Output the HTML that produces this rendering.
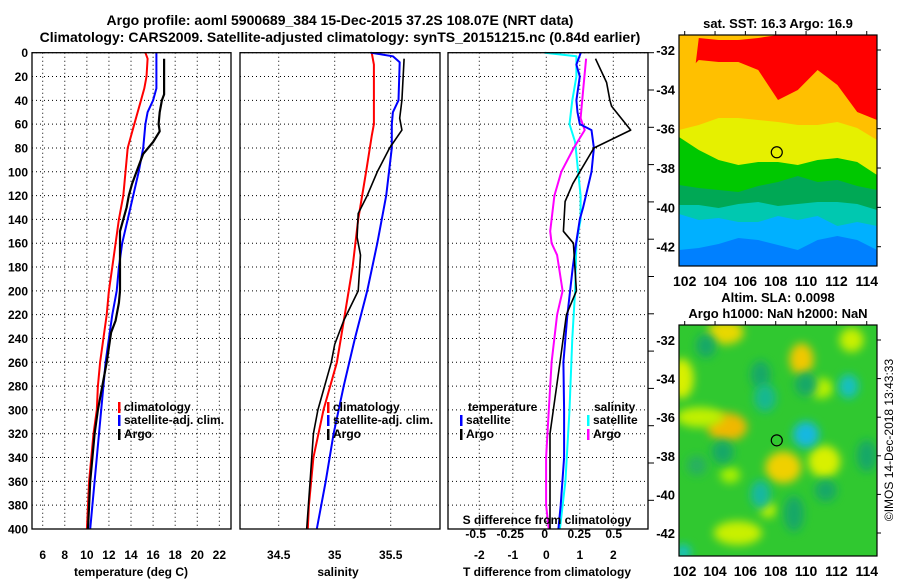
<!DOCTYPE html>
<html><head><meta charset="utf-8">
<style>
html,body{margin:0;padding:0;background:#fff;}
svg{display:block;font-family:"Liberation Sans",sans-serif;font-weight:bold;}
</style></head>
<body>
<svg id="fig" width="900" height="580" viewBox="0 0 900 580" xmlns="http://www.w3.org/2000/svg">
<defs>
<filter id="blur" x="-50%" y="-50%" width="200%" height="200%"><feGaussianBlur stdDeviation="4.5"/></filter>
<clipPath id="m1clip"><rect x="679" y="35" width="198" height="231"/></clipPath>
<clipPath id="m2clip"><rect x="679" y="325" width="198" height="231"/></clipPath>
</defs>
<text x="340" y="25" font-size="14" text-anchor="middle">Argo profile: aoml 5900689_384 15-Dec-2015 37.2S 108.07E (NRT data)</text>
<text x="340" y="42" font-size="14" text-anchor="middle">Climatology: CARS2009. Satellite-adjusted climatology: synTS_20151215.nc (0.84d earlier)</text>
<g id="p1"></g>
<g id="p2"></g>
<g id="p3"></g>
<g id="map1"></g>
<g id="map2"></g>
<text transform="translate(893,440) rotate(-90)" font-size="12" font-weight="normal" text-anchor="middle">©IMOS 14-Dec-2018 13:43:33</text>
</svg>
<script>
// ---- data ----
const depthTicks=[0,20,40,60,80,100,120,140,160,180,200,220,240,260,280,300,320,340,360,380,400];
const tempTicks=[6,8,10,12,14,16,18,20,22];
const salTicks=[34.5,35,35.5];
const tdiffTicks=[-2,-1,0,1,2];
const sdiffTicks=[-0.5,-0.25,0,0.25,0.5];
const climTDepth=[0,5,20,30,40,60,80,100,120,140,160,180,200,220,240,260,280,300,320,340,360,380,400];
const climTVal=[15.3,15.5,15.4,15.2,14.9,14.3,13.7,13.5,13.3,12.9,12.6,12.3,12.0,11.8,11.5,11.2,11.0,10.9,10.6,10.4,10.2,10.1,10.0];
const satTDepth=[0,30,40,50,60,80,100,120,140,160,180,200,220,240,260,280,300,320,340,360,380,400];
const satTVal=[16.3,16.3,16.0,15.5,15.3,15.1,14.7,14.2,13.7,13.2,12.9,12.7,12.3,12.0,11.7,11.5,11.3,11.1,10.9,10.7,10.5,10.3];
const argoTDepth=[5,35,40,50,60,66,75,85,100,110,120,130,140,150,160,200,210,225,235,260,280,300,320,340,360,380,400];
const argoTVal=[17.0,17.0,16.8,16.6,16.5,16.6,16.0,15.1,14.5,14.1,13.8,13.6,13.3,13.0,13.0,13.0,12.9,12.6,12.2,11.8,11.4,11.0,10.7,10.5,10.3,10.2,10.1];
const climSDepth=[0,10,60,70,100,140,180,220,260,300,340,380,400];
const climSVal=[35.33,35.35,35.35,35.33,35.28,35.21,35.16,35.09,35.02,34.90,34.81,34.77,34.76];
const satSDepth=[0,3,8,40,50,60,80,120,160,200,240,280,320,360,400];
const satSVal=[35.32,35.52,35.58,35.57,35.52,35.51,35.51,35.46,35.38,35.29,35.18,35.08,34.99,34.92,34.84];
const argoSDepth=[5,40,55,65,80,100,120,135,155,170,200,225,245,260,280,300,320,360,400];
const argoSVal=[35.62,35.60,35.58,35.60,35.49,35.38,35.29,35.21,35.20,35.23,35.21,35.08,35.00,34.97,34.91,34.85,34.81,34.78,34.75];
const dTSatDepth=[0,10,20,40,50,60,65,80,100,130,140,160,180,220,260,300,340,380,400];
const dTSatVal=[1.03,0.9,1.0,0.9,0.93,1.0,1.35,1.42,1.35,1.1,1.0,0.89,0.79,0.63,0.51,0.53,0.53,0.43,0.36];
const dTArgoDepth=[5,25,40,45,65,80,100,110,125,150,160,200,220,260,290,320,360,400];
const dTArgoVal=[1.47,1.8,1.9,1.95,2.52,1.42,1.0,0.79,0.56,0.51,0.81,0.90,0.60,0.41,0.26,0.11,0.11,0.11];
const dSSatDepth=[0,3,20,40,60,75,120,140,160,200,240,300,360,400];
const dSSatVal=[0,0.23,0.23,0.2,0.18,0.22,0.26,0.26,0.23,0.22,0.2,0.18,0.15,0.11];
const dSArgoDepth=[5,30,55,65,80,100,120,150,160,170,200,220,260,300,340,380,400];
const dSArgoVal=[0.30,0.28,0.26,0.29,0.21,0.12,0.07,0.04,0.05,0.09,0.13,0.09,0.05,0.03,0.01,0.01,0.03];
const lonTicks=[102,104,106,108,110,112,114];
const latTicks=[-32,-34,-36,-38,-40,-42];
const argoLon=108.07, argoLat=-37.2;
const sstText="sat. SST: 16.3 Argo: 16.9";

// ---- helpers ----
const NS="http://www.w3.org/2000/svg";
function mk(parent,tag,attrs,txt){const e=document.createElementNS(NS,tag);for(const k in attrs)e.setAttribute(k,attrs[k]);if(txt!==undefined)e.textContent=txt;parent.appendChild(e);return e;}
const yD=d=>52.7+d*476.3/400;
function frame(g,x0,x1){
  const r=mk(g,'rect',{x:x0,y:52.7,width:x1-x0,height:476.3,fill:'none',stroke:'#000','stroke-width':1.3});
  
  
}
function hgrid(g,x0,x1){
  depthTicks.forEach(d=>{const l=mk(g,'line',{x1:x0,x2:x1,y1:yD(d),y2:yD(d),stroke:'#000','stroke-dasharray':'1,3','stroke-width':1});
    
    });
}
function vgrid(g,ticks,fx){
  ticks.forEach(v=>{const l=mk(g,'line',{x1:fx(v),x2:fx(v),y1:52.7,y2:529,stroke:'#000','stroke-dasharray':'1,3','stroke-width':1});
    
    });
}
function line(g,ds,vs,fx,color,w,name){
  const pts=ds.map((d,i)=>fx(vs[i]).toFixed(1)+','+yD(d).toFixed(1)).join(' ');
  const p=mk(g,'polyline',{points:pts,fill:'none',stroke:color,'stroke-width':w,'stroke-linejoin':'round'});
  
  
}
function legend(g,x,y,color,label,name){
  const b=mk(g,'rect',{x:x,y:y-9,width:2.5,height:11,fill:color});
  
  
  const t=mk(g,'text',{x:x+6,y:y,'font-size':12},label);
  
  
}
function txt(g,x,y,s,size,anchor,name){const t=mk(g,'text',{x:x,y:y,'font-size':size,'text-anchor':anchor||'start'},s);
  
  return t;}

// ---- panel 1 temperature ----
const p1=document.getElementById('p1');
const fT=v=>42.7+(v-6)*11.04;
hgrid(p1,32,231);vgrid(p1,tempTicks,fT);
line(p1,climTDepth,climTVal,fT,'#f00',2,'climatology-temp-line');
line(p1,satTDepth,satTVal,fT,'#00f',2,'satellite-temp-line');
line(p1,argoTDepth,argoTVal,fT,'#000',2.2,'argo-temp-line');
frame(p1,32,231);
depthTicks.forEach(d=>txt(p1,28,yD(d)+4.5,String(d),12,'end','depth-tick-label'));
tempTicks.forEach(v=>txt(p1,fT(v),559,String(v),12,'middle','temp-tick-label'));
txt(p1,131,576,'temperature (deg C)',12,'middle','temp-axis-title');
legend(p1,118,411,'#f00','climatology','legend-climatology');
legend(p1,118,424,'#00f','satellite-adj. clim.','legend-satellite');
legend(p1,118,438,'#000','Argo','legend-argo');

// ---- panel 2 salinity ----
const p2=document.getElementById('p2');
const fS=v=>334.7+(v-35)*112;
hgrid(p2,240,440);vgrid(p2,salTicks,fS);
line(p2,climSDepth,climSVal,fS,'#f00',2,'climatology-sal-line');
line(p2,satSDepth,satSVal,fS,'#00f',2,'satellite-sal-line');
line(p2,argoSDepth,argoSVal,fS,'#000',1.6,'argo-sal-line');
frame(p2,240,440);
salTicks.forEach(v=>txt(p2,fS(v),559,String(v),12,'middle','sal-tick-label'));
txt(p2,338,576,'salinity',12,'middle','sal-axis-title');
legend(p2,327,411,'#f00','climatology','legend-climatology');
legend(p2,327,424,'#00f','satellite-adj. clim.','legend-satellite');
legend(p2,327,438,'#000','Argo','legend-argo');

// ---- panel 3 differences ----
const p3=document.getElementById('p3');
const fDT=v=>546.3+v*33.5;
const fDS=v=>544.7+v*138;
hgrid(p3,448,648);vgrid(p3,tdiffTicks,fDT);
line(p3,dSSatDepth,dSSatVal,fDS,'#0ff',2,'salinity-satellite-diff-line');
line(p3,dSArgoDepth,dSArgoVal,fDS,'#f0f',2,'salinity-argo-diff-line');
line(p3,dTSatDepth,dTSatVal,fDT,'#00f',2,'temperature-satellite-diff-line');
line(p3,dTArgoDepth,dTArgoVal,fDT,'#000',1.6,'temperature-argo-diff-line');
frame(p3,448,648);
for(let y=52.7;y<=529;y+=37.3){const l=mk(p3,'line',{x1:648,x2:654,y1:y,y2:y,stroke:'#000','stroke-width':1});
  
  }
tdiffTicks.forEach(v=>txt(p3,fDT(v),559,String(v),12,'middle','tdiff-tick-label'));
sdiffTicks.forEach(v=>txt(p3,fDS(v),538,String(v),12,'middle','sdiff-tick-label'));
txt(p3,547,524,'S difference from climatology',12,'middle','sdiff-axis-title');
txt(p3,547,576,'T difference from climatology',12,'middle','tdiff-axis-title');
txt(p3,468,411,'temperature',12,'start','legend-temperature-heading');
txt(p3,594,411,'salinity',12,'start','legend-salinity-heading');
legend(p3,460,424,'#00f','satellite','legend-temp-satellite');
legend(p3,460,438,'#000','Argo','legend-temp-argo');
legend(p3,587,424,'#0ff','satellite','legend-sal-satellite');
legend(p3,587,438,'#f0f','Argo','legend-sal-argo');

// ---- maps ----
function mapAxes(g,top,lat32y,lat42y,titleLines){
  const fx=lon=>684.7+(lon-102)*15.17;
  const fy=lat=>lat32y+(-32-lat)*(lat42y-lat32y)/10;
  const r=mk(g,'rect',{x:679,y:top,width:198,height:231,fill:'none',stroke:'#000','stroke-width':1.2});
  
  
  lonTicks.forEach(v=>{
    const l=mk(g,'line',{x1:fx(v),x2:fx(v),y1:top-4,y2:top,stroke:'#000'});
    
    
    txt(g,fx(v),top+231+20,String(v),14,'middle','lon-tick-label');
  });
  latTicks.forEach(v=>{
    const l=mk(g,'line',{x1:877,x2:881,y1:fy(v),y2:fy(v),stroke:'#000'});
    
    
    txt(g,675,fy(v)+5,String(v),13,'end','lat-tick-label');
  });
  const c=mk(g,'circle',{cx:fx(argoLon),cy:fy(argoLat),r:5.5,fill:'none',stroke:'#000','stroke-width':1.2});
  
  
  const n=titleLines.length;
  titleLines.forEach((s,i)=>txt(g,778,top-(n-1-i)*16-7,s,13,'middle','map-title'));
  return {fx,fy};
}
const m1=document.getElementById('map1');
const g1=mk(m1,'g',{'clip-path':'url(#m1clip)'});


const bandColors=['#ffc000','#ff0000','#ffc000','#e6f000','#00c800','#00a855','#00c8b0','#00b0ff','#0080ff'];
const bandTops=[
 [35,35,35,35,35,35,35,35,35,35,35],
 [200,38,40,40,38,35,35,35,35,35,35],
 [80,60,62,62,70,100,90,70,85,112,120],
 [130,125,118,118,120,122,125,125,122,128,140],
 [137,150,160,165,162,162,165,160,158,162,175],
 [185,188,190,192,186,182,176,182,180,186,190],
 [205,205,208,204,202,206,204,202,202,204,210],
 [214,220,218,222,222,216,220,216,226,222,226],
 [250,248,244,238,240,245,250,240,236,240,250]];
bandTops.forEach((tops,bi)=>{
  let pts=tops.map((y,i)=>(679+i*19.8).toFixed(1)+','+y).join(' ');
  pts+=' 877,266 679,266';
  const p=mk(g1,'polygon',{points:pts,fill:bandColors[bi]});
  
  
});
mapAxes(m1,35,50,246.7,[sstText]);

const m2=document.getElementById('map2');
const g2=mk(m2,'g',{'clip-path':'url(#m2clip)'});


mk(g2,'rect',{x:679,y:325,width:198,height:231,fill:'#30c830'});
const blobs=[
 [104.7,-31.6,18,12,'#e8d800'],[101.8,-34,12,20,'#d8f000'],[104.8,-36.5,20,14,'#f0b800'],[109.7,-33,12,16,'#f0c800'],
 [108.5,-38.6,18,16,'#f0d000'],[111.2,-38.3,16,16,'#d8f000'],[103,-36,24,10,'#c0f000'],[113,-32,12,12,'#c8f000'],
 [105.5,-42,24,12,'#c8f000'],[111,-34.5,12,10,'#b8f000'],[107.5,-40.8,8,8,'#c0f000'],[105,-39,10,8,'#a8f000'],
 [103.4,-32.3,10,12,'#18a868'],[107,-33.8,10,14,'#18a868'],[107.3,-35,11,14,'#18b890'],[110,-36.9,13,13,'#18b8e0'],
 [110,-34.3,11,12,'#18a868'],[112.8,-34.4,10,12,'#18c0c0'],[104.5,-37.8,11,12,'#18a868'],[107,-40,10,14,'#18b8a0'],
 [109.2,-41,10,18,'#18a868'],[111.3,-39.8,11,11,'#18a868'],[101.9,-43,8,8,'#18c0c0'],[114,-38,10,16,'#18a868'],[102.8,-38.5,10,10,'#28b060']];
blobs.forEach(b=>{
  const fx=lon=>684.7+(lon-102)*15.17, fy=lat=>340+(-32-lat)*19.3;
  const e=mk(g2,'ellipse',{cx:fx(b[0]),cy:fy(b[1]),rx:b[2],ry:b[3],fill:b[4],filter:'url(#blur)'});
  
  
});
mapAxes(m2,325,340,533,['Altim. SLA: 0.0098','Argo h1000: NaN h2000: NaN']);
</script>
</body></html>
